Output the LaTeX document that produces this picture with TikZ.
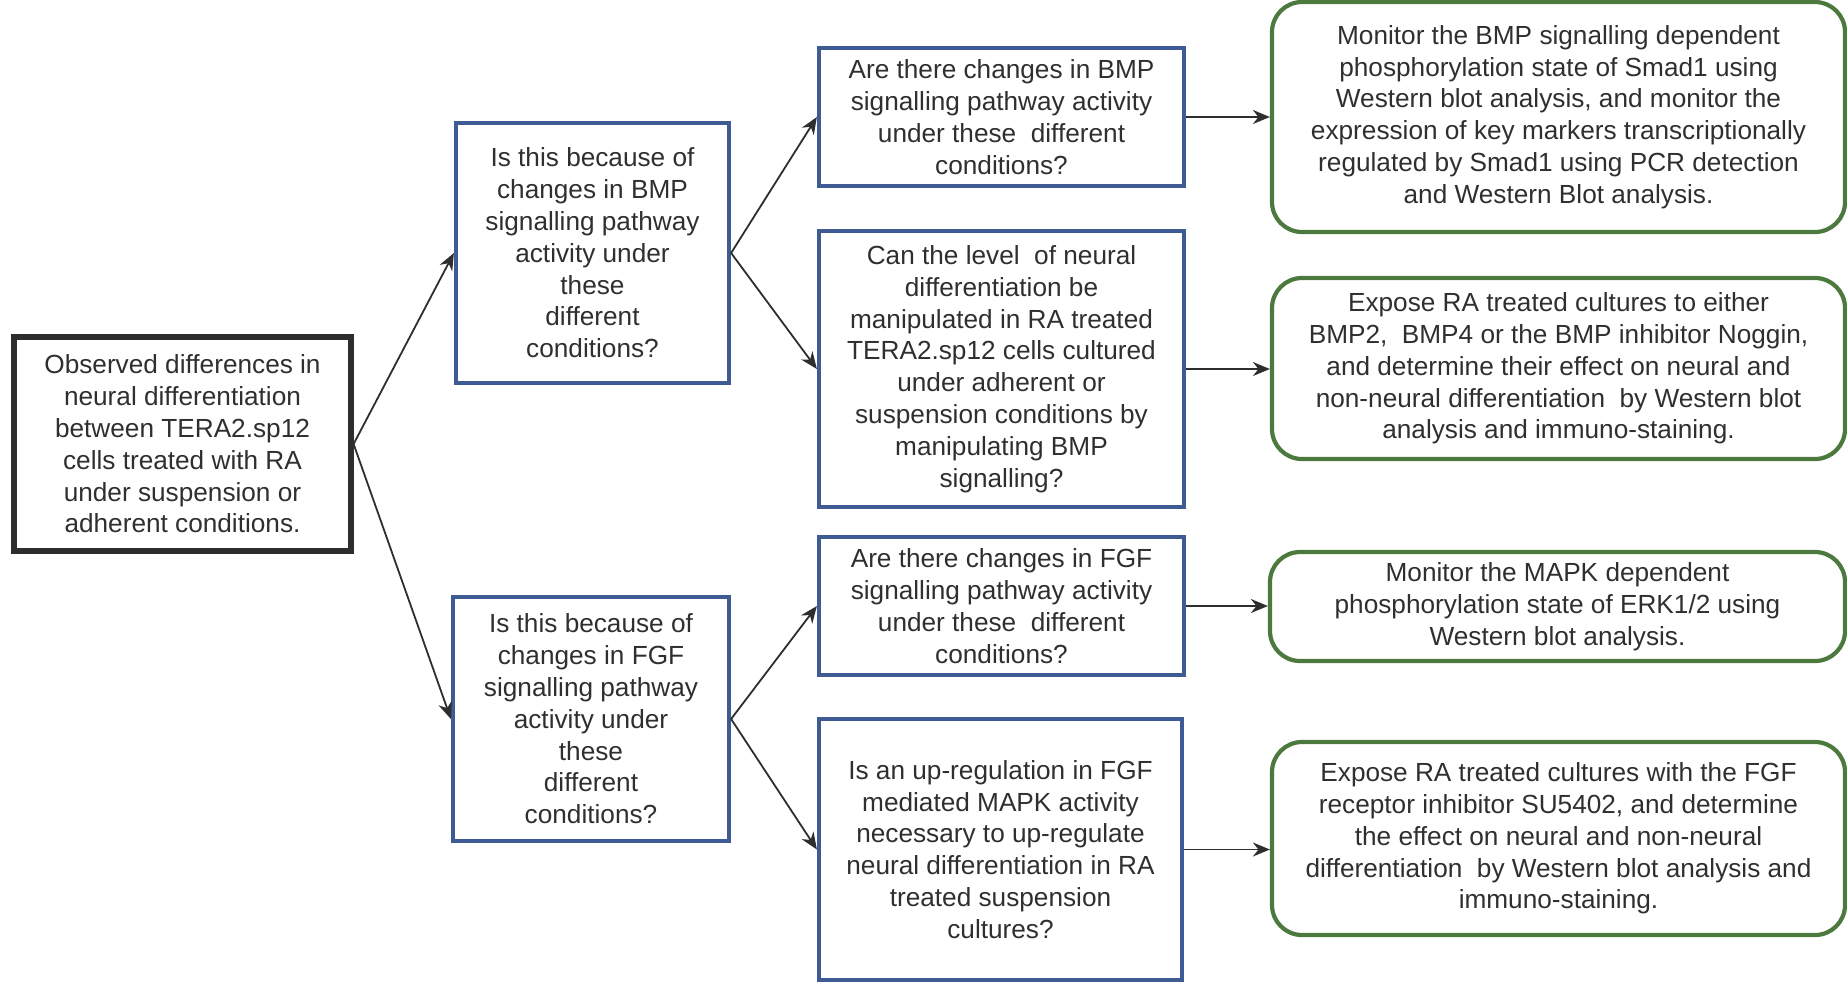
\documentclass[tikz,border=0pt]{standalone}
\usepackage{fontspec}
\setmainfont{Liberation Sans}
\usetikzlibrary{arrows.meta}
\definecolor{txt}{HTML}{2F2F2F}
\definecolor{bblue}{HTML}{3F5B93}
\definecolor{bgreen}{HTML}{4C7A3E}
\definecolor{bblack}{HTML}{2E2E2E}
\tikzset{
  base/.style={align=center, text=txt, inner sep=0pt,
    font=\fontsize{13.1}{15.9}\selectfont},
  blackbox/.style={base, draw=bblack, line width=2.6pt},
  bluebox/.style={base, draw=bblue, line width=2.1pt},
  greenbox/.style={base, draw=bgreen, line width=2.1pt, rounded corners=15pt},
  conn/.style={draw=bblack, line width=0.9pt, -{Stealth[length=8.5pt,width=7pt]}}
}
\begin{document}
\begin{tikzpicture}[x=0.5pt,y=-0.5pt]
\useasboundingbox (0,0) rectangle (1847,987);
\node[blackbox, minimum width=168.5pt, minimum height=107pt] (A) at (182.5,444)
  {Observed differences in\\neural differentiation\\between TERA2.sp12\\cells treated with RA\\under suspension or\\adherent conditions.};
\node[bluebox, minimum width=136.5pt, minimum height=130pt] (B1) at (592.5,253)
  {Is this because of\\changes in BMP\\signalling pathway\\activity under\\these\\different\\conditions?};
\node[bluebox, minimum width=138pt, minimum height=122pt] (B2) at (591,719)
  {Is this because of\\changes in FGF\\signalling pathway\\activity under\\these\\different\\conditions?};
\node[bluebox, minimum width=182.5pt, minimum height=69pt] (C1) at (1001.5,117)
  {Are there changes in BMP\\signalling pathway activity\\under these\ \ different\\conditions?};
\node[bluebox, minimum width=182.5pt, minimum height=138pt] (C2) at (1001.5,369)
  {Can the level\ \ of neural\\differentiation be\\manipulated in RA treated\\TERA2.sp12 cells cultured\\under adherent or\\suspension conditions by\\manipulating BMP\\signalling?};
\node[bluebox, minimum width=182.5pt, minimum height=69pt] (C3) at (1001.5,606)
  {Are there changes in FGF\\signalling pathway activity\\under these\ \ different\\conditions?};
\node[bluebox, minimum width=181.5pt, minimum height=130.5pt] (C4) at (1000.5,849.5)
  {Is an up-regulation in FGF\\mediated MAPK activity\\necessary to up-regulate\\neural differentiation in RA\\treated suspension\\cultures?};
\node[greenbox, minimum width=286.5pt, minimum height=115pt] (D1) at (1558.5,117)
  {Monitor the BMP signalling dependent\\phosphorylation state of Smad1 using\\Western blot analysis, and monitor the\\expression of key markers transcriptionally\\regulated by Smad1 using PCR detection\\and Western Blot analysis.};
\node[greenbox, minimum width=286.5pt, minimum height=90.5pt] (D2) at (1558.5,368.5)
  {Expose RA treated cultures to either\\BMP2,\ \ BMP4 or the BMP inhibitor Noggin,\\and determine their effect on neural and\\non-neural differentiation\ \ by Western blot\\analysis and immuno-staining.};
\node[greenbox, minimum width=287.5pt, minimum height=54.5pt] (D3) at (1557.5,606.5)
  {Monitor the MAPK dependent\\phosphorylation state of ERK1/2 using\\Western blot analysis.};
\node[greenbox, minimum width=286.5pt, minimum height=96.5pt] (D4) at (1558.5,838.5)
  {Expose RA treated cultures with the FGF\\receptor inhibitor SU5402, and determine\\the effect on neural and non-neural\\differentiation\ \ by Western blot analysis and\\immuno-staining.};
\draw[conn] (A.east) -- (B1.west);
\draw[conn] (A.east) -- (B2.west);
\draw[conn] (B1.east) -- (C1.west);
\draw[conn] (B1.east) -- (C2.west);
\draw[conn] (B2.east) -- (C3.west);
\draw[conn] (B2.east) -- (C4.west);
\draw[conn] (C1.east) -- (C1.east -| D1.west);
\draw[conn] (C2.east) -- (C2.east -| D2.west);
\draw[conn] (C3.east) -- (C3.east -| D3.west);
\draw[conn] (C4.east) -- (C4.east -| D4.west);
\end{tikzpicture}
\end{document}
